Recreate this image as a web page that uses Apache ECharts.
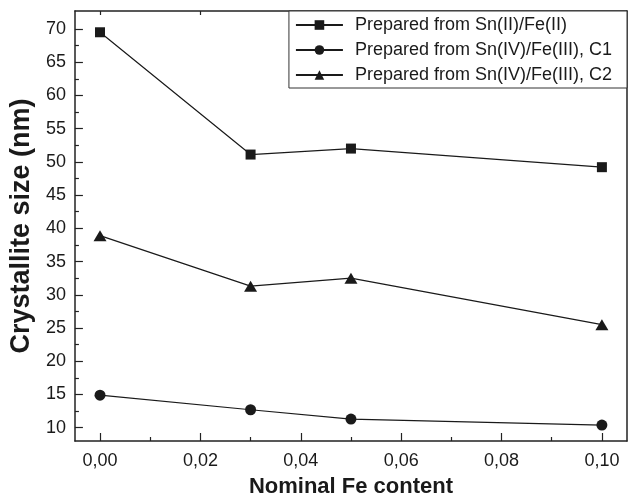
<!DOCTYPE html>
<html>
<head>
<meta charset="utf-8">
<script src="https://cdn.jsdelivr.net/npm/echarts@6/dist/echarts.min.js"></script>
<style>
  html, body { margin: 0; padding: 0; background: #fff; }
  #chart { width: 628px; height: 503px; }
</style>
</head>
<body>
<div id="chart"></div>
<script>
// Nominal Fe content (x) and crystallite size (nm) of each preparation route
const feContent = [0.00, 0.03, 0.05, 0.10];
const snIIFeII = [69.5, 51.1, 52.0, 49.2];
const snIVFeIII_C1 = [14.9, 12.7, 11.3, 10.4];
const snIVFeIII_C2 = [38.9, 31.3, 32.5, 25.5];

const seriesNames = [
  'Prepared from Sn(II)/Fe(II)',
  'Prepared from Sn(IV)/Fe(III), C1',
  'Prepared from Sn(IV)/Fe(III), C2'
];

// Axis tick values
const xMajorTicks = [0.00, 0.02, 0.04, 0.06, 0.08, 0.10];
const xMinorTicks = [0.01, 0.03, 0.05, 0.07, 0.09];
const yMajorTicks = [10, 15, 20, 25, 30, 35, 40, 45, 50, 55, 60, 65, 70];
const yMinorTicks = [12.5, 17.5, 22.5, 27.5, 32.5, 37.5, 42.5, 47.5, 52.5, 57.5, 62.5, 67.5];

const FONT = '"Liberation Sans", Arial, Helvetica, sans-serif';
const INK = '#1a1a1a';
const AXIS = '#222';
const X_MIN = -0.005, X_MAX = 0.105;
const Y_MIN = 8, Y_MAX = 72.7;

const pairs = ys => feContent.map((x, i) => [x, ys[i]]);

const lineSeries = (name, ys, symbol, size) => ({
  name: name,
  type: 'line',
  data: pairs(ys),
  symbol: symbol,
  symbolSize: size,
  color: INK,
  lineStyle: { color: INK, width: 1.2 },
  itemStyle: { color: INK },
  emphasis: { disabled: true },
  animation: false,
  z: 5
});

// Frame axes share the same range; only one of each pair carries labels
const frameX = (position, tickValues, tickLen, showLine, extra) => Object.assign({
  type: 'value', position: position, min: X_MIN, max: X_MAX,
  axisLine: { show: showLine, onZero: false, lineStyle: { color: AXIS, width: 1.5 } },
  axisTick: tickValues ? { show: true, inside: true, length: tickLen, customValues: tickValues,
                           lineStyle: { color: AXIS, width: 1.2 } } : { show: false },
  axisLabel: { show: false },
  splitLine: { show: false }
}, extra || {});

const frameY = (position, tickValues, tickLen, showLine, extra) => Object.assign({
  type: 'value', position: position, min: Y_MIN, max: Y_MAX,
  axisLine: { show: showLine, onZero: false, lineStyle: { color: AXIS, width: 1.5 } },
  axisTick: tickValues ? { show: true, inside: true, length: tickLen, customValues: tickValues,
                           lineStyle: { color: AXIS, width: 1.2 } } : { show: false },
  axisLabel: { show: false },
  splitLine: { show: false }
}, extra || {});

const chart = echarts.init(document.getElementById('chart'), null, { renderer: 'canvas' });

chart.setOption({
  backgroundColor: '#fff',
  animation: false,
  textStyle: { fontFamily: FONT },
  grid: { left: 72, right: 1, top: 11, bottom: 57, containLabel: false },
  legend: {
    orient: 'vertical',
    right: 1,
    top: 11,
    padding: [4, 15, 3, 6],
    itemGap: 5,
    itemWidth: 47,
    itemHeight: 12,
    backgroundColor: '#fff',
    borderColor: '#333',
    borderWidth: 1,
    borderRadius: 0,
    textStyle: { fontFamily: FONT, fontSize: 18, color: INK, lineHeight: 20, padding: [0, 0, 0, 7] },
    data: seriesNames
  },
  xAxis: [
    frameX('bottom', xMajorTicks, 8, true, {
      axisLabel: { show: true, customValues: xMajorTicks, margin: 11,
                   fontSize: 18, color: INK, fontFamily: FONT,
                   formatter: v => v.toFixed(2).replace('.', ',') },
      name: 'Nominal Fe content', nameLocation: 'middle', nameGap: 35,
      nameTextStyle: { fontSize: 22, fontWeight: 'bold', color: INK, fontFamily: FONT }
    }),
    frameX('bottom', xMinorTicks, 4, false),
    frameX('top', xMajorTicks, 4, true)
  ],
  yAxis: [
    frameY('left', yMajorTicks, 8, true, {
      axisLabel: { show: true, customValues: yMajorTicks, margin: 9,
                   fontSize: 18, color: INK, fontFamily: FONT },
      name: 'Crystallite size (nm)', nameLocation: 'middle', nameGap: 37,
      nameTextStyle: { fontSize: 27, fontWeight: 'bold', color: INK, fontFamily: FONT }
    }),
    frameY('left', yMinorTicks, 4, false),
    frameY('right', null, 0, true)
  ],
  series: [
    lineSeries(seriesNames[0], snIIFeII, 'rect', 10),
    lineSeries(seriesNames[1], snIVFeIII_C1, 'circle', 11),
    lineSeries(seriesNames[2], snIVFeIII_C2, 'triangle', [13, 11])
  ]
});
</script>
</body>
</html>
